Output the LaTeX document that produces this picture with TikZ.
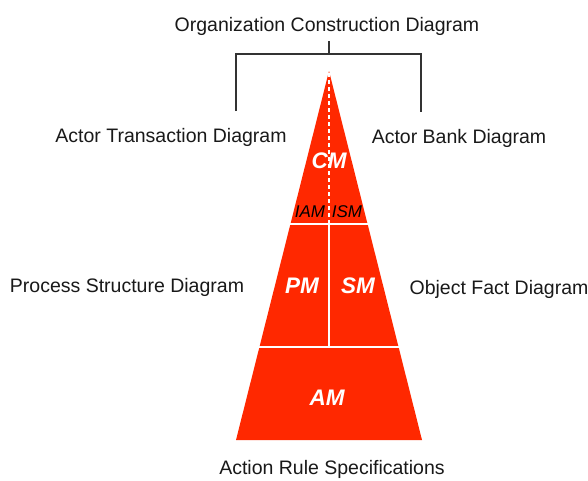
\documentclass[tikz,border=0pt]{standalone}
\usepackage{fontspec}
\setmainfont{Liberation Sans}
\definecolor{dred}{RGB}{255,40,0}
\begin{document}
\begin{tikzpicture}[x=1pt,y=-1pt,
  lbl/.style={inner sep=0pt, font=\fontsize{19.5}{21}\selectfont, text=black!90},
  inw/.style={inner sep=0pt, text=white, font=\fontsize{22.5}{24}\selectfont\bfseries\itshape},
  inb/.style={inner sep=0pt, text=black, font=\fontsize{17}{19}\selectfont\itshape},
  brk/.style={draw=black!80, line width=1.1pt},
  sep/.style={draw=white, line width=1.8pt}]
\useasboundingbox (0,0) rectangle (588,480);
\fill[white] (0,0) rectangle (588,480);
% pyramid
\coordinate (apex) at (329,71);
\coordinate (bl) at (236,440);
\coordinate (br) at (422,440);
\fill[dred] (apex) -- (br) -- (bl) -- cycle;
\coordinate (l1) at (289.5,224);
\coordinate (r1) at (368.5,224);
\coordinate (l2) at (258.5,347);
\coordinate (r2) at (399.5,347);
\coordinate (m1) at (329,224);
\coordinate (m2) at (329,347);
\coordinate (mt) at (329,73);
\draw[sep] (l1) -- (r1);
\draw[sep] (l2) -- (r2);
\draw[sep] (m1) -- (m2);
\draw[sep, dash pattern=on 4pt off 3pt] (mt) -- (m1);
% bracket
\node[lbl] (ocd) at (327,26.5) {Organization Construction Diagram};
\coordinate (bt) at (329,41);
\coordinate (bm) at (329,54);
\coordinate (bL) at (236,54);
\coordinate (bR) at (421,54);
\coordinate (bLd) at (236,111);
\coordinate (bRd) at (421,112);
\draw[brk] (bt) -- (bm);
\draw[brk] (bLd) -- (bL) -- (bR) -- (bRd);
% labels
\node[lbl] (atd) at (171,137) {Actor Transaction Diagram};
\node[lbl] (abd) at (459,138) {Actor Bank Diagram};
\node[lbl] (psd) at (127,287.5) {Process Structure Diagram};
\node[lbl] (ofd) at (499,289.5) {Object Fact Diagram};
\node[lbl] (ars) at (332,469.5) {Action Rule Specifications};
% inner labels
\node[inw] (cm) at (329,161) {CM};
\node[inb] (iam) at (310,212) {IAM};
\node[inb] (ism) at (347,212) {ISM};
\node[inw] (pm) at (302,286) {PM};
\node[inw] (sm) at (358,286) {SM};
\node[inw] (am) at (327,398) {AM};
\end{tikzpicture}
\end{document}
